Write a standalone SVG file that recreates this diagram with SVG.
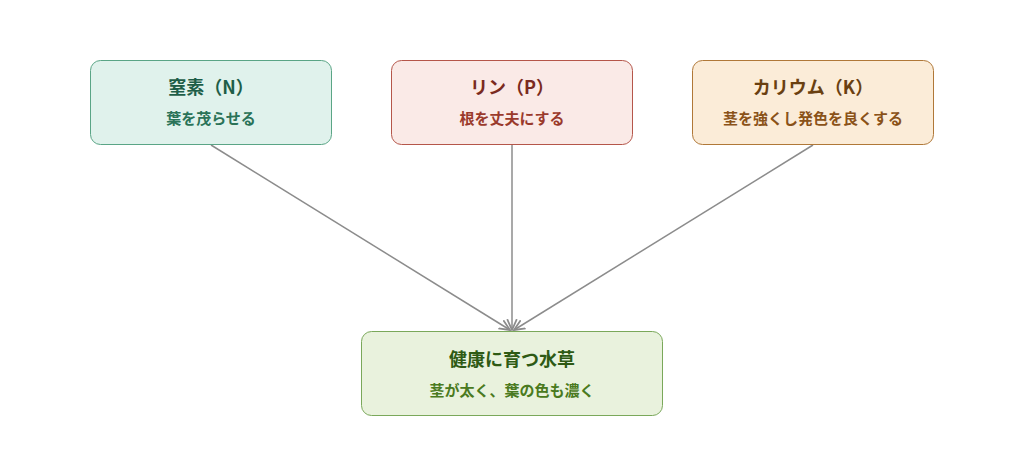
<svg xmlns="http://www.w3.org/2000/svg" width="1024" height="476" viewBox="0 0 1024 476">
<style>
text{font-family:"Noto Sans CJK JP","Noto Sans",sans-serif;font-weight:bold;text-anchor:middle}
.t{font-size:18px}.s{font-size:15px}
.e{stroke:#8c8c8c;stroke-width:1.5;fill:none}
</style>
<defs><marker id="a" viewBox="0 0 10 10" refX="9" refY="5" markerWidth="8" markerHeight="8" orient="auto"><path d="M0,1 L9,5 L0,9" fill="none" stroke="#8c8c8c" stroke-width="1.5"/></marker></defs>
<rect width="1024" height="476" fill="#fff"/>
<g id="connectors">
<line class="e" x1="211" y1="145" x2="510" y2="330" marker-end="url(#a)"/>
<line class="e" x1="512" y1="145" x2="512" y2="330" marker-end="url(#a)"/>
<line class="e" x1="813" y1="145" x2="514" y2="330" marker-end="url(#a)"/>
</g>
<g id="n">
<rect x="90.5" y="60.5" width="241" height="84" rx="10" fill="#e0f2ec" stroke="#5aa586"/>
<text class="t" x="211" y="94" fill="#1e5e48">窒素（N）</text>
<text class="s" x="211" y="124" fill="#2a7358">葉を茂らせる</text>
</g>
<g id="p">
<rect x="391.5" y="60.5" width="241" height="84" rx="10" fill="#faeae7" stroke="#b5564a"/>
<text class="t" x="512" y="94" fill="#7a2a20">リン（P）</text>
<text class="s" x="512" y="124" fill="#9a3a2c">根を丈夫にする</text>
</g>
<g id="k">
<rect x="692.5" y="60.5" width="241" height="84" rx="10" fill="#fbecd8" stroke="#b07838"/>
<text class="t" x="813" y="94" fill="#6a4010">カリウム（K）</text>
<text class="s" x="813" y="124" fill="#8a5218">茎を強くし発色を良くする</text>
</g>
<g id="plant">
<rect x="361.5" y="331.5" width="301" height="84" rx="10" fill="#e9f2dd" stroke="#7aa85a"/>
<text class="t" x="512" y="366" fill="#2e5a14">健康に育つ水草</text>
<text class="s" x="512" y="396" fill="#4a7a20">茎が太く、葉の色も濃く</text>
</g>
</svg>
